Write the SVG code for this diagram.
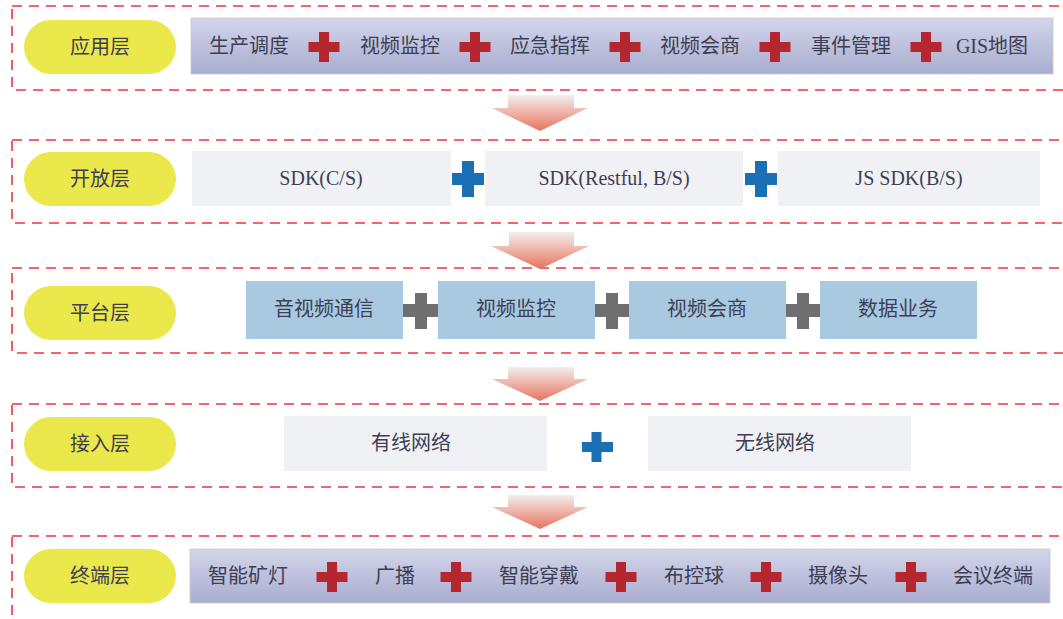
<svg xmlns="http://www.w3.org/2000/svg" width="1063" height="619" viewBox="0 0 1063 619">
<style>
.layer{fill:none;stroke:#ea363c;stroke-width:1.6;stroke-dasharray:10 7}
.pill{fill:#ebe84c}
.t{font-family:"Liberation Serif","Noto Sans CJK SC",serif;font-size:20px;fill:#3e3f55;text-anchor:middle;dominant-baseline:central}
.bar{fill:url(#gbar);stroke:#c8c8cc;stroke-width:0.8}
.g{fill:#f0f1f4}
.lb{fill:#a9c9e1}
.red{fill:#b5262e}
.blue{fill:#1a6fb5}
.gray{fill:#6f6e70}
.arr{fill:url(#garr)}
</style>
<defs>
<linearGradient id="gbar" x1="0" y1="0" x2="0" y2="1">
<stop offset="0" stop-color="#d3d5ea"/>
<stop offset="1" stop-color="#a9adcf"/>
</linearGradient>
<linearGradient id="garr" x1="0" y1="0" x2="0" y2="1">
<stop offset="0" stop-color="#f3efee"/>
<stop offset="1" stop-color="#e8735e"/>
</linearGradient>
<path id="redplus" d="M-5,-15h10v10h10.5v10h-10.5v10h-10v-10h-10.5v-10h10.5z"/>
<path id="bplus" d="M-6,-18h12v12h10v12h-10v12h-12v-12h-10v-12h10z"/>
</defs>

<g id="layer-app">
<rect class="layer" x="12" y="6" width="1070" height="84"/>
<rect class="pill" x="24" y="20" width="152" height="54" rx="27"/>
<text class="t" x="100" y="47">应用层</text>
<rect class="bar" x="191" y="18" width="862" height="56"/>
<text class="t" x="249" y="46">生产调度</text>
<text class="t" x="400" y="46">视频监控</text>
<text class="t" x="550" y="46">应急指挥</text>
<text class="t" x="700" y="46">视频会商</text>
<text class="t" x="851" y="46">事件管理</text>
<text class="t" x="992" y="46">GIS地图</text>
<use href="#redplus" class="red" x="324" y="47"/>
<use href="#redplus" class="red" x="475" y="47"/>
<use href="#redplus" class="red" x="625" y="47"/>
<use href="#redplus" class="red" x="775" y="47"/>
<use href="#redplus" class="red" x="926" y="47"/>
</g>

<g id="layer-open">
<rect class="layer" x="12" y="140" width="1070" height="83"/>
<rect class="pill" x="24" y="152" width="152" height="54" rx="27"/>
<text class="t" x="100" y="179">开放层</text>
<rect class="g" x="192" y="151" width="259" height="55"/>
<rect class="g" x="485" y="151" width="258" height="55"/>
<rect class="g" x="778" y="151" width="262" height="55"/>
<text class="t" x="321" y="178">SDK(C/S)</text>
<text class="t" x="614" y="178">SDK(Restful, B/S)</text>
<text class="t" x="909" y="178">JS SDK(B/S)</text>
<use href="#bplus" class="blue" x="468" y="179"/>
<use href="#bplus" class="blue" x="761" y="179"/>
</g>

<g id="layer-platform">
<rect class="layer" x="12" y="268" width="1070" height="85"/>
<rect class="pill" x="24" y="286" width="152" height="54" rx="27"/>
<text class="t" x="100" y="313">平台层</text>
<rect class="lb" x="246" y="281" width="157" height="58"/>
<rect class="lb" x="438" y="281" width="157" height="58"/>
<rect class="lb" x="629" y="281" width="157" height="58"/>
<rect class="lb" x="820" y="281" width="157" height="58"/>
<text class="t" x="324" y="309">音视频通信</text>
<text class="t" x="516" y="309">视频监控</text>
<text class="t" x="707" y="309">视频会商</text>
<text class="t" x="898" y="309">数据业务</text>
<path class="gray" d="M403,304h12v-11h12v11h11v13h-11v12h-12v-12h-12z"/>
<path class="gray" d="M595,304h11v-11h12v11h11v13h-11v12h-12v-12h-11z"/>
<path class="gray" d="M786,304h11v-11h12v11h11v13h-11v12h-12v-12h-11z"/>
</g>

<g id="layer-access">
<rect class="layer" x="12" y="404" width="1070" height="83"/>
<rect class="pill" x="24" y="417" width="152" height="54" rx="27"/>
<text class="t" x="100" y="444">接入层</text>
<rect class="g" x="284" y="416" width="263" height="55"/>
<rect class="g" x="648" y="416" width="263" height="55"/>
<text class="t" x="411" y="443">有线网络</text>
<text class="t" x="775" y="443">无线网络</text>
<path class="blue" d="M591.5,432h10v10h11.5v10h-11.5v10h-10v-10h-9.5v-10h9.5z"/>
</g>

<g id="layer-terminal">
<rect class="layer" x="12" y="536" width="1070" height="100"/>
<rect class="pill" x="24" y="549" width="152" height="54" rx="27"/>
<text class="t" x="100" y="576">终端层</text>
<rect class="bar" x="190" y="549" width="860" height="54"/>
<text class="t" x="248" y="576">智能矿灯</text>
<text class="t" x="395" y="576">广播</text>
<text class="t" x="539" y="576">智能穿戴</text>
<text class="t" x="694" y="576">布控球</text>
<text class="t" x="838" y="576">摄像头</text>
<text class="t" x="993" y="576">会议终端</text>
<use href="#redplus" class="red" x="332" y="577"/>
<use href="#redplus" class="red" x="456" y="577"/>
<use href="#redplus" class="red" x="621" y="577"/>
<use href="#redplus" class="red" x="766" y="577"/>
<use href="#redplus" class="red" x="911" y="577"/>
</g>

<g id="connectors">
<path class="arr" d="M508,95h66v13h14l-48,23l-48,-23h16z"/>
<path class="arr" d="M509,232h65v14h15l-49,23l-49,-23h18z"/>
<path class="arr" d="M508,367h66v12h14l-48,22l-48,-22h16z"/>
<path class="arr" d="M508,495h66v12h14l-48,22l-48,-22h16z"/>
</g>
</svg>
